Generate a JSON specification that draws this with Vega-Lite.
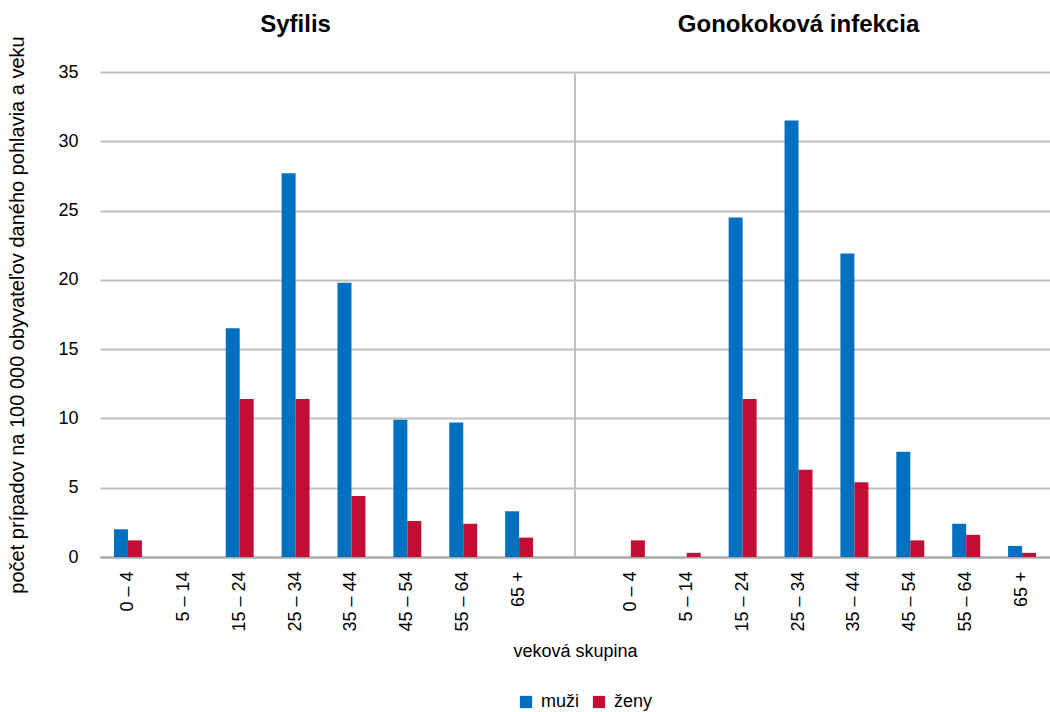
{
  "$schema": "https://vega.github.io/schema/vega-lite/v6.json",
  "autosize": {"type": "none"},
  "width": 950,
  "height": 485,
  "padding": {"left": 100, "top": 72, "right": 0, "bottom": 155},
  "background": "white",
  "config": {
    "font": "Liberation Sans",
    "view": {"stroke": null}
  },
  "datasets": {
    "rates": [
      {"key": "S|0 – 4", "sex": "muži", "value": 2.0},
      {"key": "S|0 – 4", "sex": "ženy", "value": 1.2},
      {"key": "S|5 – 14", "sex": "muži", "value": 0},
      {"key": "S|5 – 14", "sex": "ženy", "value": 0},
      {"key": "S|15 – 24", "sex": "muži", "value": 16.5},
      {"key": "S|15 – 24", "sex": "ženy", "value": 11.4},
      {"key": "S|25 – 34", "sex": "muži", "value": 27.7},
      {"key": "S|25 – 34", "sex": "ženy", "value": 11.4},
      {"key": "S|35 – 44", "sex": "muži", "value": 19.8},
      {"key": "S|35 – 44", "sex": "ženy", "value": 4.4},
      {"key": "S|45 – 54", "sex": "muži", "value": 9.9},
      {"key": "S|45 – 54", "sex": "ženy", "value": 2.6},
      {"key": "S|55 – 64", "sex": "muži", "value": 9.7},
      {"key": "S|55 – 64", "sex": "ženy", "value": 2.4},
      {"key": "S|65 +", "sex": "muži", "value": 3.3},
      {"key": "S|65 +", "sex": "ženy", "value": 1.4},
      {"key": "G|0 – 4", "sex": "muži", "value": 0},
      {"key": "G|0 – 4", "sex": "ženy", "value": 1.2},
      {"key": "G|5 – 14", "sex": "muži", "value": 0},
      {"key": "G|5 – 14", "sex": "ženy", "value": 0.3},
      {"key": "G|15 – 24", "sex": "muži", "value": 24.5},
      {"key": "G|15 – 24", "sex": "ženy", "value": 11.4},
      {"key": "G|25 – 34", "sex": "muži", "value": 31.5},
      {"key": "G|25 – 34", "sex": "ženy", "value": 6.3},
      {"key": "G|35 – 44", "sex": "muži", "value": 21.9},
      {"key": "G|35 – 44", "sex": "ženy", "value": 5.4},
      {"key": "G|45 – 54", "sex": "muži", "value": 7.6},
      {"key": "G|45 – 54", "sex": "ženy", "value": 1.2},
      {"key": "G|55 – 64", "sex": "muži", "value": 2.4},
      {"key": "G|55 – 64", "sex": "ženy", "value": 1.6},
      {"key": "G|65 +", "sex": "muži", "value": 0.8},
      {"key": "G|65 +", "sex": "ženy", "value": 0.3}
    ],
    "separator": [{"key": "gap"}]
  },
  "resolve": {"axis": {"x": "independent"}},
  "layer": [
    {
      "data": {"name": "separator"},
      "mark": {"type": "rule", "color": "#c0c0c0", "strokeWidth": 2},
      "encoding": {
        "x": {
          "field": "key",
          "type": "nominal",
          "scale": {
            "domain": ["S|0 – 4", "S|5 – 14", "S|15 – 24", "S|25 – 34", "S|35 – 44", "S|45 – 54", "S|55 – 64", "S|65 +", "gap", "G|0 – 4", "G|5 – 14", "G|15 – 24", "G|25 – 34", "G|35 – 44", "G|45 – 54", "G|55 – 64", "G|65 +"],
            "paddingInner": 0.5,
            "paddingOuter": 0.25
          },
          "axis": {
            "orient": "top",
            "title": null,
            "domain": false,
            "ticks": false,
            "labelAngle": 0,
            "labelPadding": 36,
            "labelFontSize": 24,
            "labelFontWeight": "bold",
            "labelColor": "#000000",
            "labelOverlap": false,
            "labelBound": false,
            "labelFlush": false,
            "labelLimit": 400,
            "labelExpr": "datum.value == 'S|25 – 34' ? 'Syfilis' : (datum.value == 'G|25 – 34' ? 'Gonokoková infekcia' : '')"
          }
        }
      }
    },
    {
      "data": {"name": "rates"},
      "mark": {"type": "bar"},
      "encoding": {
        "x": {
          "field": "key",
          "type": "nominal",
          "scale": {
            "domain": ["S|0 – 4", "S|5 – 14", "S|15 – 24", "S|25 – 34", "S|35 – 44", "S|45 – 54", "S|55 – 64", "S|65 +", "gap", "G|0 – 4", "G|5 – 14", "G|15 – 24", "G|25 – 34", "G|35 – 44", "G|45 – 54", "G|55 – 64", "G|65 +"],
            "paddingInner": 0.5,
            "paddingOuter": 0.25
          },
          "axis": {
            "orient": "bottom",
            "title": "veková skupina",
            "titleFontSize": 18,
            "titleFontWeight": "normal",
            "titleColor": "#000000",
            "titlePadding": 11,
            "domainColor": "#a6a6a6",
            "domainWidth": 2,
            "ticks": false,
            "labelAngle": -90,
            "labelPadding": 14,
            "labelFontSize": 18,
            "labelColor": "#000000",
            "labelOverlap": false,
            "labelExpr": "datum.value == 'gap' ? '' : split(datum.value, '|')[1]"
          }
        },
        "xOffset": {"field": "sex", "type": "nominal", "scale": {"domain": ["muži", "ženy"], "paddingInner": 0}},
        "y": {
          "field": "value",
          "type": "quantitative",
          "scale": {"domain": [0, 35], "nice": false},
          "axis": {
            "values": [0, 5, 10, 15, 20, 25, 30, 35],
            "title": "počet prípadov na 100 000 obyvateľov daného pohlavia a veku",
            "titleFontSize": 20,
            "titleFontWeight": "normal",
            "titleColor": "#000000",
            "titlePadding": 30,
            "domain": false,
            "ticks": false,
            "grid": true,
            "gridColor": "#c0c0c0",
            "gridWidth": 2,
            "labelFontSize": 18,
            "labelColor": "#000000",
            "labelPadding": 22
          }
        },
        "color": {
          "field": "sex",
          "type": "nominal",
          "scale": {"domain": ["muži", "ženy"], "range": ["#0070c0", "#c40d34"]},
          "legend": {
            "orient": "none",
            "legendX": 417,
            "legendY": 621,
            "direction": "horizontal",
            "title": null,
            "symbolType": "square",
            "symbolSize": 150,
            "symbolStrokeWidth": 0,
            "labelFontSize": 18,
            "labelColor": "#000000",
            "columnPadding": 10,
            "labelOffset": 6
          }
        }
      }
    }
  ]
}
